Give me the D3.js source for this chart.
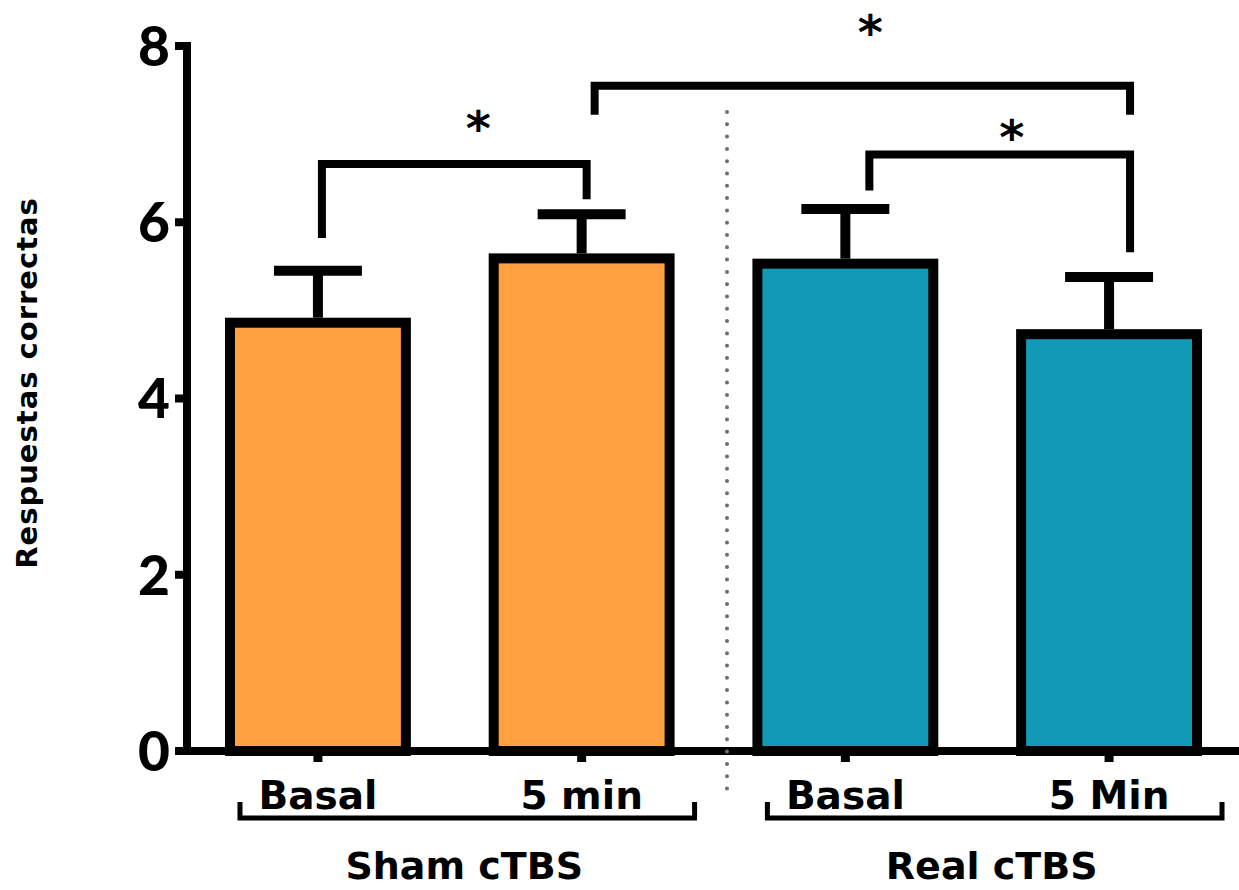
<!DOCTYPE html>
<html>
<head>
<meta charset="utf-8">
<script src="https://cdn.jsdelivr.net/npm/d3@7"></script>
<style>
  body { margin: 0; background: #fff; }
  text { font-family: "DejaVu Sans", sans-serif; font-weight: bold; fill: #000; }
</style>
</head>
<body>
<script>
// bars: 2 groups x 2 time points
var cats = ["sham_basal", "sham_5", "real_basal", "real_5"];
var tickLabels = ["Basal", "5 min", "Basal", "5 Min"];
var groupNames = ["Sham cTBS", "Real cTBS"];
var groupOf = [0, 0, 1, 1];
var means = [4.86, 5.59, 5.53, 4.73];
var sems = [0.59, 0.50, 0.62, 0.65];
var yTicks = [0, 2, 4, 6, 8];

// significance brackets (values in y units)
var pairs = [[0, 1], [1, 3], [2, 3]];
var pairLevel = [6.66, 7.55, 6.77];
var legEnds = [[5.82, 6.26], [7.22, 7.22], [6.36, 5.66]];
var starLevel = [7.18, 8.26, 7.07];
var starText = ["*", "*", "*"];

var barColor = ["#fea040", "#fea040", "#1299b5", "#1299b5"];

var width = 1239;
var height = 890;

var svg = d3.select("body")
    .append("svg")
    .attr("width", width)
    .attr("height", height);

var yScale = d3.scaleLinear()
    .domain([0, 8])
    .range([751, 46]);

var xScale = d3.scaleBand()
    .domain(cats)
    .range([187, 1240])
    .paddingInner(0.333)
    .paddingOuter(0.163);

var bw = xScale.bandwidth();
function cx(i) { return xScale(cats[i]) + bw / 2; }

// bars
svg.selectAll("rect.bar")
    .data(means)
    .enter()
    .append("rect")
        .attr("class", "bar")
        .attr("x", function(d, i) { return xScale(cats[i]); })
        .attr("y", function(d) { return yScale(d); })
        .attr("width", bw)
        .attr("height", function(d) { return yScale(0) - yScale(d); })
        .attr("fill", function(d, i) { return barColor[i]; })
        .attr("stroke", "#000")
        .attr("stroke-width", 10);

// error bars (upper only)
var err = svg.selectAll("g.err")
    .data(means)
    .enter()
    .append("g")
        .attr("class", "err");

err.append("line")
    .attr("x1", function(d, i) { return cx(i); })
    .attr("x2", function(d, i) { return cx(i); })
    .attr("y1", function(d) { return yScale(d) - 5; })
    .attr("y2", function(d, i) { return yScale(d + sems[i]); })
    .attr("stroke", "#000")
    .attr("stroke-width", 10);

err.append("line")
    .attr("x1", function(d, i) { return cx(i) - bw / 4; })
    .attr("x2", function(d, i) { return cx(i) + bw / 4; })
    .attr("y1", function(d, i) { return yScale(d + sems[i]); })
    .attr("y2", function(d, i) { return yScale(d + sems[i]); })
    .attr("stroke", "#000")
    .attr("stroke-width", 10);

// y axis
var yAxis = d3.axisLeft(yScale)
    .tickValues(yTicks)
    .tickSize(12)
    .tickSizeOuter(12)
    .tickPadding(5)
    .offset(0);

var yG = svg.append("g")
    .attr("transform", "translate(187,0)")
    .call(yAxis);

yG.selectAll("path, line")
    .attr("stroke", "#000")
    .attr("stroke-width", 8);
yG.selectAll("text")
    .style("font-family", "Lato, sans-serif")
    .style("font-weight", "900")
    .attr("font-size", 55)
    .attr("dy", "0.36em");

// x axis
var xAxis = d3.axisBottom(xScale)
    .tickSize(11)
    .tickSizeOuter(0)
    .offset(0)
    .tickFormat(function(d) { return tickLabels[cats.indexOf(d)]; });

var xG = svg.append("g")
    .attr("transform", "translate(0," + yScale(0) + ")")
    .call(xAxis);

xG.select(".domain")
    .attr("d", "M175,0H1239")
    .attr("stroke", "#000")
    .attr("stroke-width", 8);
xG.selectAll(".tick line")
    .attr("stroke", "#000")
    .attr("stroke-width", 9);
xG.selectAll("text")
    .attr("font-size", 39)
    .attr("y", 58)
    .attr("dy", 0);

// dotted separator
svg.append("line")
    .attr("x1", 727).attr("x2", 727)
    .attr("y1", 112).attr("y2", 800)
    .attr("stroke", "#6e6e6e")
    .attr("stroke-width", 4)
    .attr("stroke-linecap", "round")
    .attr("stroke-dasharray", "0 12.3");

// group brackets under the axis
var groupSpan = groupNames.map(function(g, k) {
    var idx = cats.filter(function(c, i) { return groupOf[i] === k; })
        .map(function(c) { return cats.indexOf(c); });
    var left = xScale(cats[idx[0]]) + 10;
    var right = xScale(cats[idx[idx.length - 1]]) + bw + 25;
    return [left, right];
});

svg.selectAll("path.grp")
    .data(groupSpan)
    .enter()
    .append("path")
        .attr("class", "grp")
        .attr("d", function(d) {
            return "M" + d[0] + ",802V818H" + d[1] + "V802";
        })
        .attr("fill", "none")
        .attr("stroke", "#000")
        .attr("stroke-width", 5);

svg.selectAll("text.grp")
    .data(groupNames)
    .enter()
    .append("text")
        .attr("class", "grp")
        .attr("x", function(d, k) { return (groupSpan[k][0] + groupSpan[k][1]) / 2 - 3; })
        .attr("y", 879)
        .attr("text-anchor", "middle")
        .attr("font-size", 38)
        .text(function(d) { return d; });

// significance brackets
var legShift = [[4, 5], [13, 21], [24, 21]];
var starShift = [24, 8, 12];

svg.selectAll("path.sig")
    .data(pairs)
    .enter()
    .append("path")
        .attr("class", "sig")
        .attr("d", function(p, k) {
            var x1 = cx(p[0]) + legShift[k][0];
            var x2 = cx(p[1]) + legShift[k][1];
            return "M" + x1 + "," + yScale(legEnds[k][0]) +
                "V" + yScale(pairLevel[k]) +
                "H" + x2 +
                "V" + yScale(legEnds[k][1]);
        })
        .attr("fill", "none")
        .attr("stroke", "#000")
        .attr("stroke-width", 8);

svg.selectAll("text.star")
    .data(pairs)
    .enter()
    .append("text")
        .attr("class", "star")
        .attr("x", function(p, k) {
            return (cx(p[0]) + legShift[k][0] + cx(p[1]) + legShift[k][1]) / 2 + starShift[k];
        })
        .attr("y", function(p, k) { return yScale(starLevel[k]); })
        .attr("dy", "0.55em")
        .attr("text-anchor", "middle")
        .attr("font-size", 48)
        .text(function(p, k) { return starText[k]; });

// y label
svg.append("text")
    .attr("transform", "translate(37,383) rotate(-90)")
    .attr("text-anchor", "middle")
    .attr("font-size", 29)
    .attr("letter-spacing", 1)
    .text("Respuestas correctas");
</script>
</body>
</html>
